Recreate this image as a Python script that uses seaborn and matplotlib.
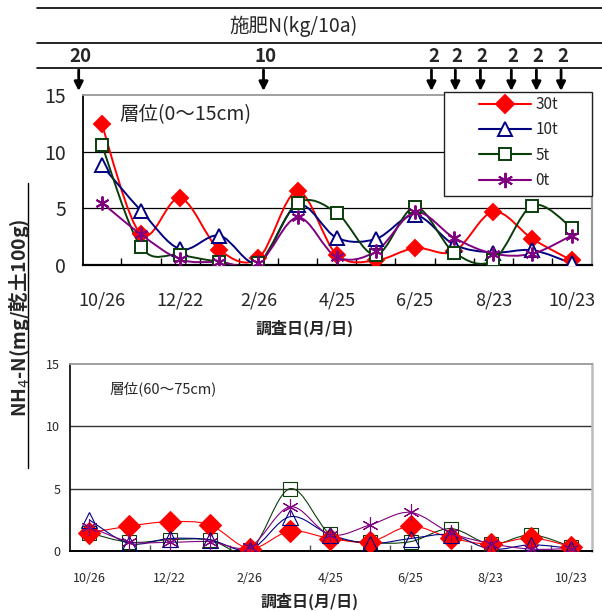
import numpy as np
import matplotlib
matplotlib.use('Agg')
import matplotlib.pyplot as plt
import seaborn as sns
from matplotlib.path import Path
from matplotlib.patches import PathPatch, Rectangle
from matplotlib.lines import Line2D

# ---------------- data ----------------
survey_idx = list(range(13))
tick_labels = ['10/26', '12/22', '2/26', '4/25', '6/25', '8/23', '10/23']
series_names = ['30t', '10t', '5t', '0t']

top_30t = [12.4, 2.7, 5.9, 1.35, 0.6, 6.5, 0.9, 0.4, 1.5, 1.2, 4.7, 2.3, 0.4]
top_10t = [8.8, 4.8, 1.4, 2.6, 0.2, 5.3, 2.4, 2.3, 4.4, 1.8, 1.1, 1.3, 0.15]
top_5t = [10.6, 1.6, 0.9, 0.3, 0.15, 5.45, 4.6, 0.9, 5.1, 1.1, 0.4, 5.25, 3.3]
top_0t = [5.5, 2.7, 0.5, 0.25, 0.15, 4.2, 0.7, 1.2, 4.65, 2.4, 1.0, 1.0, 2.6]

bot_30t = [1.45, 2.0, 2.35, 2.1, 0.2, 1.6, 1.0, 0.75, 2.0, 1.05, 0.55, 1.05, 0.35]
bot_10t = [2.5, 0.6, 1.0, 0.9, 0.1, 2.75, 1.3, 0.6, 1.0, 1.3, 0.15, 0.5, 0.2]
bot_5t = [1.45, 0.7, 0.9, 0.9, 0.0, 5.0, 1.35, 0.7, 0.75, 1.8, 0.55, 1.3, 0.35]
bot_0t = [1.95, 0.75, 0.7, 0.75, 0.35, 3.55, 1.3, 2.1, 3.1, 1.45, 0.6, 0.15, 0.2]

fert_amount = [20, 10, 2, 2, 2, 2, 2, 2]
fert_pos = [-0.59, 4.13, 8.42, 9.03, 9.67, 10.46, 11.10, 11.73]

# ---------------- style ----------------
sns.set_theme(style='white')
plt.rcParams['font.family'] = ['Noto Sans CJK JP', 'DejaVu Sans']

colors = {'30t': '#FF0000', '10t': '#000080', '5t': '#0B3D0B', '0t': '#800080'}
markers = {'30t': 'D', '10t': '^', '5t': 's', '0t': (6, 2, 0)}
top_ms = {'30t': 8.5, '10t': 9.5, '5t': 8, '0t': 10}
bot_ms = {'30t': 11, '10t': 12, '5t': 10.5, '0t': 12}

W, H = 602, 611
fig = plt.figure(figsize=(W / 100, H / 100), dpi=100)


def fx(px):
    return px / W


def fy(py):
    return 1 - py / H


ax1 = fig.add_axes([fx(83), fy(265), fx(592) - fx(83), fy(95) - fy(265)])
ax2 = fig.add_axes([fx(70), fy(551), fx(592) - fx(70), fy(364) - fy(551)])


def smooth_path(xs, ys):
    P = np.column_stack([xs, ys]).astype(float)
    n = len(P)
    verts = [P[0]]
    codes = [Path.MOVETO]
    for i in range(n - 1):
        p0 = P[i - 1] if i > 0 else P[i]
        p3 = P[i + 2] if i + 2 < n else P[i + 1]
        c1 = P[i] + (P[i + 1] - p0) / 6.0
        c2 = P[i + 1] - (p3 - P[i]) / 6.0
        verts += [c1, c2, P[i + 1]]
        codes += [Path.CURVE4] * 3
    return Path(verts, codes)


def draw_series(ax, data, ms, lw, mew, face_hollow, order):
    for z, name in enumerate(order):
        vals = data[name]
        c = colors[name]
        ax.add_patch(PathPatch(smooth_path(survey_idx, vals), fill=False,
                               edgecolor=c, lw=lw, zorder=3 + z * 0.1,
                               transform=ax.transData))
        fc = c if name in ('30t', '0t') else face_hollow
        sns.lineplot(x=survey_idx, y=vals, ax=ax, marker=markers[name],
                     markersize=ms[name], linestyle='', color=c,
                     markerfacecolor=fc, markeredgecolor=c,
                     markeredgewidth=mew, zorder=4 + z * 0.1)


top_data = {'30t': top_30t, '10t': top_10t, '5t': top_5t, '0t': top_0t}
bot_data = {'30t': bot_30t, '10t': bot_10t, '5t': bot_5t, '0t': bot_0t}

draw_series(ax1, top_data, top_ms, 1.4, 1.4, 'white', ['30t', '10t', '5t', '0t'])
draw_series(ax2, bot_data, bot_ms, 0.8, 0.8, 'none', ['5t', '30t', '10t', '0t'])

# ---------------- axes formatting ----------------
for ax in (ax1, ax2):
    ax.set_xlim(-0.48, 12.52)
    ax.set_ylim(0, 15)
    ax.set_yticks([0, 5, 10, 15])
    ax.set_xticks(range(0, 13, 2))
    ax.set_xticklabels(tick_labels)
    ax.set_xlabel('')
    ax.set_ylabel('')
    ax.grid(False)
    ax.set_facecolor('white')

for yv in (5, 10):
    ax1.axhline(yv, color='black', lw=0.9, zorder=1)
    ax2.axhline(yv, color='#333333', lw=1.0, zorder=1)

ax1.spines['top'].set_color('#999999'); ax1.spines['top'].set_linewidth(1.3)
ax1.spines['right'].set_color('#999999'); ax1.spines['right'].set_linewidth(1.6)
ax1.spines['left'].set_color('black'); ax1.spines['left'].set_linewidth(1.3)
ax1.spines['bottom'].set_color('black'); ax1.spines['bottom'].set_linewidth(1.6)

ax2.spines['top'].set_color('#999999'); ax2.spines['top'].set_linewidth(1.3)
ax2.spines['right'].set_color('#BBBBBB'); ax2.spines['right'].set_linewidth(1.8)
ax2.spines['left'].set_color('black'); ax2.spines['left'].set_linewidth(1.2)
ax2.spines['bottom'].set_color('black'); ax2.spines['bottom'].set_linewidth(1.4)

ax1.tick_params(axis='y', length=0, pad=12, labelsize=14)
ax1.tick_params(axis='x', which='major', length=0, pad=19, labelsize=13)
ax1.set_xticks(np.arange(0.5, 12, 1), minor=True)
ax1.tick_params(axis='x', which='minor', direction='in', length=5, width=1, color='black', bottom=True)

ax2.tick_params(axis='y', length=0, pad=7, labelsize=9)
ax2.tick_params(axis='x', which='major', length=0, pad=15, labelsize=9)
ax2.set_xticks(np.arange(1.5, 12, 2), minor=True)
ax2.tick_params(axis='x', which='minor', direction='in', length=4, width=1, color='#555555', bottom=True)

ax1.text(0.46, 13.3, '層位(0～15cm)', fontsize=14, ha='left', va='center', zorder=6)
ax2.text(0.5, 13.0, '層位(60～75cm)', fontsize=10.5, ha='left', va='center', zorder=6)

fig.text(fx(305), fy(328), '調査日(月/日)', ha='center', va='center', fontsize=11.5, fontweight='bold')
fig.text(fx(310), fy(601), '調査日(月/日)', ha='center', va='center', fontsize=11.5, fontweight='bold')

fig.text(fx(20), fy(318), 'NH$_4$-N(mg/乾土100g)', rotation=90, ha='center', va='center',
         fontsize=14, fontweight='bold')
fig.add_artist(Line2D([fx(28), fx(28)], [fy(183), fy(468)], color='black', lw=1))

# ---------------- header ----------------
for yy in (8, 43, 68):
    fig.add_artist(Line2D([fx(37), fx(602)], [fy(yy), fy(yy)], color='black', lw=1.2))
fig.text(fx(293), fy(26), '施肥N(kg/10a)', ha='center', va='center', fontsize=14)

for pos, amt in zip(fert_pos, fert_amount):
    ax1.annotate('', xy=(pos, fy(91)), xycoords=('data', 'figure fraction'),
                 xytext=(pos, fy(70)), textcoords=('data', 'figure fraction'),
                 arrowprops=dict(arrowstyle='-|>', lw=2, color='black',
                                 mutation_scale=13, shrinkA=0, shrinkB=0),
                 annotation_clip=False)
    ax1.annotate(str(amt), xy=(pos + 0.05, fy(56)), xycoords=('data', 'figure fraction'),
                 ha='center', va='center', fontsize=13.5, fontweight='bold',
                 annotation_clip=False)

# ---------------- legend ----------------
fig.add_artist(Rectangle((fx(444), fy(196)), fx(592) - fx(444), fy(92) - fy(196),
                         transform=fig.transFigure, facecolor='white', edgecolor='#222222',
                         lw=1.0, zorder=5))
handles = []
leg_ms = {'30t': 9, '10t': 10, '5t': 8, '0t': 11}
for name in series_names:
    fc = 'white' if name in ('10t', '5t') else colors[name]
    handles.append(Line2D([0], [0], color=colors[name], lw=1.5, marker=markers[name],
                          markersize=leg_ms[name], markerfacecolor=fc,
                          markeredgecolor=colors[name], markeredgewidth=1.4))
leg = fig.legend(handles, series_names, loc='upper left',
                 bbox_to_anchor=(fx(479), fy(96)), frameon=False, fontsize=11,
                 handlelength=3.4, handletextpad=0.3, labelspacing=0.55,
                 borderpad=0, borderaxespad=0)
leg.set_zorder(6)

fig.savefig('out.png', dpi=100, facecolor='white')
